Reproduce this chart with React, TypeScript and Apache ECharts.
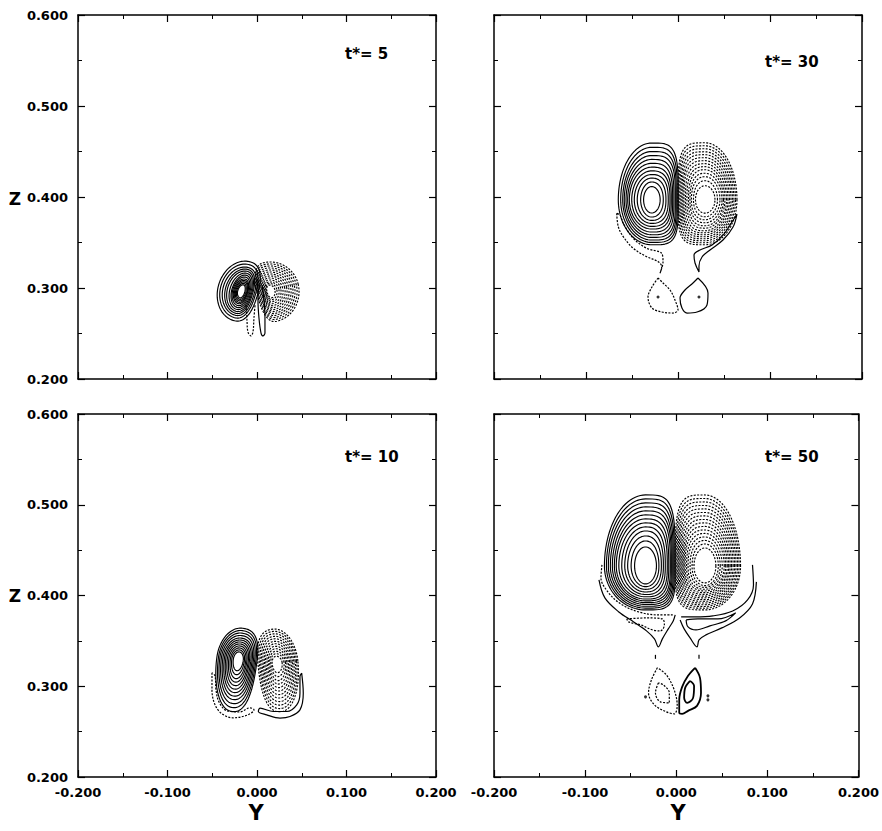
import React, { useEffect, useRef } from "react";
import * as echarts from "echarts";

// ---------- axes ----------
const xMin = -0.2;
const xMax = 0.2;
const yMin = 0.2;
const yMax = 0.6;
const tickStep = 0.1;
const panelTitles = ["t*= 5", "t*= 30", "t*= 10", "t*= 50"];

// ---------- vortex lobes: contour intercepts (outer -> inner), distances from the core ----------
// sign: +1 solid (positive), -1 dotted (negative); inner: side facing the mid-plane
const t5Pos = {
  sign: 1, inner: 1, rot: 17, sq: 0.4, center: [-0.0171, 0.296],
  L: [0.0268, 0.024, 0.0212, 0.0184, 0.0162, 0.0134, 0.0112, 0.0101, 0.0089, 0.0078, 0.0067, 0.0056, 0.0045],
  R: [0.0179, 0.0156, 0.014, 0.0123, 0.0112, 0.0101, 0.0089, 0.0078, 0.0067, 0.0061, 0.0056, 0.0045, 0.0034],
  T: [0.0341, 0.0308, 0.0275, 0.0253, 0.0231, 0.0209, 0.0187, 0.0165, 0.0143, 0.0126, 0.011, 0.0093, 0.0077],
  B: [0.033, 0.0297, 0.0269, 0.0247, 0.0225, 0.0203, 0.0181, 0.0159, 0.0137, 0.0121, 0.0104, 0.0088, 0.0071],
};
const t5Neg = {
  sign: -1, inner: -1, rot: -13, sq: 0.4, center: [0.0145, 0.2967],
  L: [0.0145, 0.0134, 0.0123, 0.0112, 0.0101, 0.0092, 0.0083, 0.0074, 0.0065, 0.0056, 0.0048, 0.004, 0.0034],
  R: [0.0324, 0.0302, 0.0279, 0.0257, 0.0235, 0.0212, 0.019, 0.0168, 0.0145, 0.0123, 0.0101, 0.0078, 0.0056],
  T: [0.0319, 0.0297, 0.0275, 0.0253, 0.0231, 0.0209, 0.0187, 0.0165, 0.0143, 0.0121, 0.0099, 0.0082, 0.0066],
  B: [0.0341, 0.0319, 0.0297, 0.0275, 0.0253, 0.0231, 0.0209, 0.0187, 0.0165, 0.0143, 0.0121, 0.0099, 0.0077],
};
const t30Pos = {
  sign: 1, inner: 1, rot: 0, sq: 2, center: [-0.0286, 0.397],
  L: [0.0363, 0.0337, 0.0315, 0.0298, 0.0279, 0.0261, 0.0243, 0.0217, 0.0189, 0.0157, 0.012, 0.0088],
  R: [0.0289, 0.0278, 0.0267, 0.0257, 0.0242, 0.0228, 0.0213, 0.0199, 0.018, 0.0155, 0.0126, 0.0092],
  T: [0.0623, 0.0576, 0.053, 0.0486, 0.0443, 0.04, 0.0358, 0.0317, 0.0277, 0.0238, 0.0195, 0.0145],
  B: [0.0495, 0.0469, 0.0443, 0.0414, 0.0385, 0.0355, 0.0322, 0.0293, 0.026, 0.0227, 0.019, 0.0146],
};
const t30Neg = {
  sign: -1, inner: -1, rot: 0, sq: 2, center: [0.0293, 0.397],
  L: [0.0293, 0.0283, 0.0272, 0.0261, 0.025, 0.0239, 0.0228, 0.0212, 0.0196, 0.0179, 0.0163, 0.0147, 0.0125, 0.0103],
  R: [0.0348, 0.0332, 0.0315, 0.0299, 0.0283, 0.0266, 0.025, 0.0234, 0.0217, 0.0201, 0.0185, 0.0163, 0.0136, 0.0109],
  T: [0.0626, 0.0593, 0.056, 0.0527, 0.0495, 0.0462, 0.0429, 0.0396, 0.0363, 0.033, 0.0291, 0.0253, 0.0209, 0.0154],
  B: [0.0495, 0.0473, 0.0451, 0.0429, 0.0407, 0.0385, 0.0363, 0.0341, 0.0313, 0.0286, 0.0253, 0.022, 0.0187, 0.0148],
};
const t10Pos = {
  sign: 1, inner: 1, rot: 8, sq: 0.6, center: [-0.0209, 0.3291],
  L: [0.0241, 0.0223, 0.0207, 0.019, 0.0173, 0.0156, 0.014, 0.0123, 0.0106, 0.0089, 0.0073, 0.0056],
  R: [0.0209, 0.0196, 0.0182, 0.0168, 0.0154, 0.014, 0.0125, 0.0112, 0.0097, 0.0084, 0.0069, 0.0056],
  T: [0.0352, 0.0325, 0.0297, 0.027, 0.0242, 0.022, 0.0198, 0.0176, 0.0154, 0.0132, 0.011, 0.0088],
  B: [0.0573, 0.0529, 0.0485, 0.0441, 0.0402, 0.0363, 0.0325, 0.0286, 0.0248, 0.0209, 0.0165, 0.0121],
};
const t10Neg = {
  sign: -1, inner: -1, rot: -6, sq: 0.6, center: [0.022, 0.3254],
  L: [0.0209, 0.0193, 0.0179, 0.0164, 0.015, 0.0135, 0.0121, 0.0106, 0.0092, 0.0078, 0.0065, 0.0051],
  R: [0.0238, 0.0223, 0.0208, 0.0192, 0.0177, 0.0161, 0.0145, 0.013, 0.0114, 0.0098, 0.0082, 0.0061],
  T: [0.0378, 0.0352, 0.0325, 0.0297, 0.027, 0.0242, 0.0215, 0.0187, 0.016, 0.0132, 0.0105, 0.0077],
  B: [0.0536, 0.0501, 0.0463, 0.0424, 0.0385, 0.0347, 0.0308, 0.027, 0.0231, 0.0193, 0.0149, 0.0105],
};
const t50Pos = {
  sign: 1, inner: 1, rot: 0, sq: 2, center: [-0.0337, 0.4326],
  L: [0.0451, 0.0429, 0.0408, 0.0386, 0.0364, 0.0342, 0.0321, 0.0293, 0.0261, 0.0228, 0.0196, 0.0158, 0.012],
  R: [0.0326, 0.0315, 0.0304, 0.0293, 0.0283, 0.0272, 0.0255, 0.0239, 0.0217, 0.0196, 0.0174, 0.0147, 0.012],
  T: [0.0782, 0.0738, 0.0694, 0.065, 0.0606, 0.0562, 0.0518, 0.0474, 0.043, 0.0385, 0.033, 0.0275, 0.0209],
  B: [0.0485, 0.0465, 0.0445, 0.0425, 0.0405, 0.0385, 0.0365, 0.034, 0.0315, 0.0287, 0.0258, 0.0228, 0.0198],
};
const t50Neg = {
  sign: -1, inner: -1, rot: 0, sq: 2, center: [0.0315, 0.4326],
  L: [0.0326, 0.0315, 0.0304, 0.0293, 0.0283, 0.0272, 0.0261, 0.025, 0.0239, 0.0228, 0.0217, 0.0201, 0.0185, 0.0163, 0.0141, 0.012],
  R: [0.0391, 0.0375, 0.0359, 0.0342, 0.0326, 0.031, 0.0293, 0.0277, 0.0261, 0.0245, 0.0228, 0.0212, 0.019, 0.0168, 0.0147, 0.012],
  T: [0.0782, 0.0743, 0.0705, 0.0666, 0.0628, 0.0589, 0.0551, 0.0512, 0.0474, 0.0435, 0.0396, 0.0358, 0.0319, 0.0281, 0.0242, 0.0198],
  B: [0.0485, 0.0466, 0.0447, 0.0428, 0.0409, 0.039, 0.0371, 0.0352, 0.0333, 0.0314, 0.0295, 0.0276, 0.0257, 0.0237, 0.0217, 0.0187],
};

// ---------- secondary contours (data coordinates) ----------
const t5NegTail = [[-0.0123, 0.2813], [-0.0112, 0.2648], [-0.0101, 0.2516], [-0.0067, 0.2473], [-0.0045, 0.2516], [-0.0034, 0.267], [-0.0022, 0.2813]];
const t5PosTail = [[0.0011, 0.3088], [0.0011, 0.2868], [0.0022, 0.267], [0.0045, 0.2505], [0.0067, 0.2473], [0.0089, 0.2505], [0.0089, 0.267], [0.0078, 0.2868], [0.0056, 0.3033]];

const t30NegHook = [[-0.0666, 0.3821], [-0.0649, 0.3674], [-0.0595, 0.3564], [-0.0486, 0.3436], [-0.034, 0.3344], [-0.0214, 0.3289], [-0.0177, 0.3234], [-0.0196, 0.3162], [-0.0163, 0.3286], [-0.0177, 0.3381], [-0.034, 0.3436], [-0.0486, 0.3546], [-0.0595, 0.3711], [-0.063, 0.3802], [-0.0666, 0.3821]];
const t30PosHook = [[0.0641, 0.3813], [0.0598, 0.367], [0.0489, 0.3527], [0.0348, 0.3418], [0.0261, 0.3341], [0.0228, 0.3242], [0.0228, 0.3176], [0.0185, 0.3275], [0.0174, 0.3363], [0.0239, 0.3418], [0.037, 0.3473], [0.05, 0.3593], [0.0587, 0.3725], [0.0641, 0.3813]];
const t30NegDrop = [[-0.0217, 0.311], [-0.0283, 0.3011], [-0.0326, 0.2901], [-0.0283, 0.278], [-0.0174, 0.2736], [-0.0054, 0.2725], [0, 0.2758], [-0.0033, 0.2868], [-0.0087, 0.2978], [-0.0163, 0.3055], [-0.0217, 0.311]];
const t30PosDrop = [[0.0217, 0.311], [0.0326, 0.2945], [0.0315, 0.2813], [0.0207, 0.2736], [0.0098, 0.2725], [0.0043, 0.278], [0.0022, 0.289], [0.0076, 0.2978], [0.0163, 0.3055], [0.0217, 0.311]];
const t30Dots = [[-0.0217, 0.2901], [0.0228, 0.2901]];

const t10NegCrescent = [[-0.0503, 0.3148], [-0.0503, 0.296], [-0.0469, 0.2795], [-0.0391, 0.2696], [-0.0268, 0.2652], [-0.0101, 0.2685], [-0.0034, 0.274], [-0.0078, 0.2762], [-0.019, 0.2718], [-0.0335, 0.2729], [-0.0425, 0.2828], [-0.0458, 0.296], [-0.0469, 0.3115], [-0.0503, 0.3148]];
const t10PosCrescent = [[0.0499, 0.3144], [0.0517, 0.2924], [0.048, 0.274], [0.0369, 0.2666], [0.0257, 0.2649], [0.0108, 0.2685], [0.0015, 0.2722], [0.0034, 0.2759], [0.0182, 0.2722], [0.0332, 0.2722], [0.0444, 0.2795], [0.048, 0.2924], [0.048, 0.3107], [0.0499, 0.3144]];

const t50NegCrescent = [[-0.0815, 0.4337], [-0.0826, 0.4194], [-0.075, 0.404], [-0.0609, 0.3907], [-0.0413, 0.3819], [-0.0196, 0.3786], [-0.0033, 0.3786]];
const t50NegLoop = [[-0.0543, 0.3742], [-0.0326, 0.3753], [-0.0152, 0.3742], [-0.013, 0.3676], [-0.0174, 0.361], [-0.0261, 0.3621], [-0.0391, 0.3676], [-0.0522, 0.3709], [-0.0543, 0.3742]];
const t50LeftHook = [[-0.0848, 0.4172], [-0.0783, 0.3974], [-0.063, 0.3819], [-0.0467, 0.3709], [-0.0326, 0.361], [-0.0239, 0.3522], [-0.0196, 0.3434], [-0.0152, 0.3522], [-0.0087, 0.3632], [-0.0033, 0.372], [-0.0011, 0.3786]];
const t50PosCrescent = [[0.0837, 0.4337], [0.0848, 0.4117], [0.0783, 0.3952], [0.062, 0.383], [0.0402, 0.3775], [0.0207, 0.3764], [0.0054, 0.3764]];
const t50PosLoop = [[0.0109, 0.3731], [0.0239, 0.3742], [0.0457, 0.3742], [0.0652, 0.3808], [0.0543, 0.372], [0.037, 0.3665], [0.0217, 0.3621], [0.013, 0.3654], [0.0109, 0.3731]];
const t50RightHook = [[0.088, 0.415], [0.0837, 0.3907], [0.0696, 0.3753], [0.05, 0.3643], [0.0326, 0.3566], [0.025, 0.3511], [0.0228, 0.3434], [0.0152, 0.3533], [0.0087, 0.3632], [0.0043, 0.3731]];
const t50TickL = [[-0.0228, 0.3346], [-0.0228, 0.3302]];
const t50TickR = [[0.025, 0.3346], [0.025, 0.3302]];
const t50NegDrop = [[-0.0207, 0.3203], [-0.0272, 0.307], [-0.0304, 0.2927], [-0.0239, 0.2795], [-0.0109, 0.2718], [-0.0022, 0.2696], [0.0011, 0.2784], [-0.0022, 0.296], [-0.0109, 0.3126], [-0.0207, 0.3203]];
const t50NegDropIn = [[-0.0196, 0.3037], [-0.0228, 0.2927], [-0.0174, 0.2828], [-0.0076, 0.2817], [-0.0076, 0.2927], [-0.0141, 0.3015], [-0.0196, 0.3037]];
const t50PosDrop = [[0.0207, 0.3203], [0.0261, 0.3093], [0.0272, 0.2927], [0.0228, 0.2784], [0.013, 0.2729], [0.0065, 0.2696], [0.0033, 0.2707], [0.0033, 0.2851], [0.0065, 0.2993], [0.013, 0.3115], [0.0207, 0.3203]];
const t50PosDropIn = [[0.0152, 0.3059], [0.0196, 0.3004], [0.0185, 0.2872], [0.012, 0.2817], [0.0087, 0.2872], [0.0098, 0.2982], [0.0152, 0.3059]];
const t50Dots = [[-0.0337, 0.2883], [0.0348, 0.2894], [0.0348, 0.285]];

const panelLobes = [[t5Pos, t5Neg], [t30Pos, t30Neg], [t10Pos, t10Neg], [t50Pos, t50Neg]];
const panelExtras: { pts: number[][]; sign: number; w?: number }[][] = [
  [{ pts: t5NegTail, sign: -1 }, { pts: t5PosTail, sign: 1 }],
  [{ pts: t30NegHook, sign: -1 }, { pts: t30PosHook, sign: 1 }, { pts: t30NegDrop, sign: -1 }, { pts: t30PosDrop, sign: 1 }],
  [{ pts: t10NegCrescent, sign: -1 }, { pts: t10PosCrescent, sign: 1 }],
  [
    { pts: t50NegCrescent, sign: -1 }, { pts: t50NegLoop, sign: -1 }, { pts: t50LeftHook, sign: 1 },
    { pts: t50PosCrescent, sign: 1 }, { pts: t50PosLoop, sign: 1 }, { pts: t50RightHook, sign: 1 },
    { pts: t50TickL, sign: 1 }, { pts: t50TickR, sign: 1 },
    { pts: t50NegDrop, sign: -1 }, { pts: t50NegDropIn, sign: -1 },
    { pts: t50PosDrop, sign: 1, w: 1.8 }, { pts: t50PosDropIn, sign: 1, w: 1.8 },
  ],
];
const panelDots = [[], t30Dots, [], t50Dots];

// ---------- layout ----------
const grids = [
  { left: 78, top: 15, width: 358, height: 364 },
  { left: 494, top: 15, width: 368, height: 364 },
  { left: 78, top: 414, width: 358, height: 363 },
  { left: 494, top: 414, width: 368, height: 363 },
];

function ringCurves(lobe: any): number[][][] {
  const N = lobe.L.length;
  const th = (lobe.rot * Math.PI) / 180;
  const out: number[][][] = [];
  for (let k = 0; k < N; k++) {
    const n = 2 + lobe.sq * (1 - k / Math.max(1, N - 1));
    const pts: number[][] = [];
    const M = 100;
    for (let i = 0; i <= M; i++) {
      const t = (2 * Math.PI * i) / M;
      const c = Math.cos(t);
      const s = Math.sin(t);
      const facing = (c >= 0) === (lobe.inner === 1);
      const e = facing ? 2 / n : 1;
      const dx = Math.sign(c) * Math.pow(Math.abs(c), e) * (c >= 0 ? lobe.R[k] : lobe.L[k]);
      const dy = Math.sign(s) * Math.pow(Math.abs(s), e) * (s >= 0 ? lobe.T[k] : lobe.B[k]);
      const x = dx * Math.cos(th) + dy * Math.sin(th);
      const y = -dx * Math.sin(th) + dy * Math.cos(th);
      pts.push([lobe.center[0] + x, lobe.center[1] + y]);
    }
    out.push(pts);
  }
  return out;
}

const FONT = '"DejaVu Sans", "Liberation Sans", sans-serif';
const fmt = (v: number) => (Math.abs(v) < 1e-9 ? 0 : v).toFixed(3);

function buildOption() {
  const xAxis: any[] = [];
  const yAxis: any[] = [];
  const series: any[] = [];
  const lineBase = { color: "#000", width: 1.5 };
  grids.forEach((g, p) => {
    const common = {
      gridIndex: p,
      type: "value",
      splitLine: { show: false },
      axisLine: { show: true, onZero: false, lineStyle: lineBase },
      axisTick: { show: true, inside: true, length: 7, lineStyle: { color: "#000", width: 1.2 } },
      minorTick: { show: true, splitNumber: 2, length: 4, lineStyle: { color: "#000", width: 1 } },
      minorSplitLine: { show: false },
    };
    const lbl = { color: "#000", fontSize: 13, fontWeight: "bold", fontFamily: FONT, formatter: fmt };
    xAxis.push({ ...common, min: xMin, max: xMax, interval: tickStep, position: "bottom", axisLabel: { ...lbl, show: p >= 2, margin: 9 } });
    xAxis.push({ ...common, min: xMin, max: xMax, interval: tickStep, position: "top", axisLabel: { show: false } });
    yAxis.push({ ...common, min: yMin, max: yMax, interval: tickStep, position: "left", axisLabel: { ...lbl, show: p % 2 === 0, margin: 10 } });
    yAxis.push({ ...common, min: yMin, max: yMax, interval: tickStep, position: "right", axisLabel: { show: false } });

    const ax = { xAxisIndex: 2 * p, yAxisIndex: 2 * p };
    panelLobes[p].forEach((lobe: any) => {
      ringCurves(lobe).forEach((ring) => {
        series.push({
          type: "line", ...ax, data: ring, showSymbol: false, symbol: "none", silent: true,
          lineStyle: { color: "#000", width: 1.15, type: lobe.sign > 0 ? "solid" : [2, 1.4] },
        });
      });
    });
    panelExtras[p].forEach((ex) => {
      series.push({
        type: "line", ...ax, data: ex.pts, showSymbol: false, symbol: "none", silent: true, smooth: 0.35,
        lineStyle: { color: "#000", width: ex.w || 1.2, type: ex.sign > 0 ? "solid" : [2, 1.4] },
      });
    });
    if (panelDots[p].length) {
      series.push({
        type: "scatter", ...ax, data: panelDots[p], symbol: "circle", symbolSize: 3, silent: true,
        itemStyle: { color: "#000" },
      });
    }
  });

  const titlePos = [[345, 54], [765, 62], [345, 457], [765, 457]];
  const graphic: any[] = panelTitles.map((t, i) => ({
    type: "text", x: titlePos[i][0], y: titlePos[i][1],
    style: { text: t, font: `bold 15px ${FONT}`, fill: "#000", align: "left", verticalAlign: "middle" },
  }));
  [[15, 199], [15, 596]].forEach(([x, y]) =>
    graphic.push({ type: "text", x, y, style: { text: "Z", font: `bold 17px ${FONT}`, fill: "#000", align: "center", verticalAlign: "middle" } })
  );
  [[256, 813], [678, 813]].forEach(([x, y]) =>
    graphic.push({ type: "text", x, y, style: { text: "Y", font: `bold 21px ${FONT}`, fill: "#000", align: "center", verticalAlign: "middle" } })
  );

  return {
    animation: false,
    backgroundColor: "#fff",
    grid: grids.map((g) => ({ ...g, containLabel: false })),
    xAxis,
    yAxis,
    series,
    graphic,
  };
}

export default function App() {
  const ref = useRef<HTMLDivElement>(null);
  useEffect(() => {
    if (!ref.current) return;
    const chart = echarts.init(ref.current, undefined, { renderer: "svg" });
    chart.setOption(buildOption());
    return () => chart.dispose();
  }, []);
  return <div ref={ref} style={{ position: "absolute", left: 0, top: 0, width: 882, height: 831, background: "#fff" }} />;
}
